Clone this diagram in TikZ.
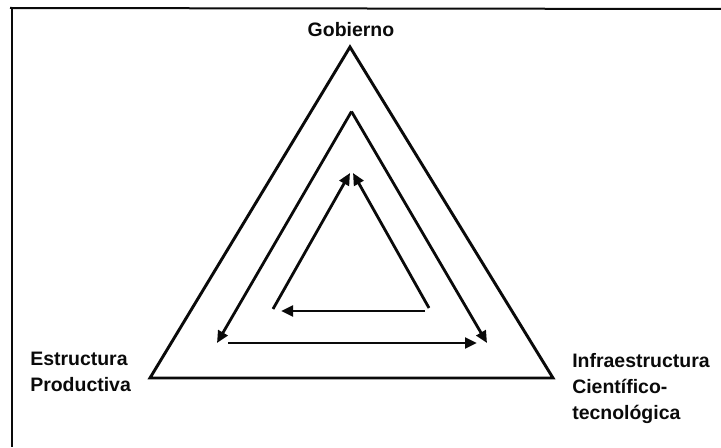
\documentclass[tikz,border=0pt]{standalone}
\usepackage{fontspec}
\setmainfont{Liberation Sans}
\usepackage{tikz}
\usepackage{xcolor}
\usetikzlibrary{arrows.meta,positioning}
\definecolor{ink}{HTML}{0A0A0A}
\tikzset{
  frameline/.style={draw=ink,line width=1.5pt},
  sideline/.style={draw=ink,line width=2.2pt,line join=miter},
  flowarr/.style={-{Triangle[length=9pt,width=8pt]},draw=ink,line width=2.1pt},
  cornertxt/.style={inner sep=0pt,align=left,text=ink,
                    font=\fontsize{14.6}{19.5}\selectfont\bfseries}
}

\begin{document}
\begin{tikzpicture}[x=0.75pt,y=0.75pt]
  \useasboundingbox (0,0) rectangle (721,447);
  % frame (top and left edges only)
  \draw[frameline] (10,439) -- (721,438);
  \draw[frameline] (12,440) -- (12,0);

  % outer triangle
  \coordinate (gob) at (350,400);
  \coordinate (prod) at (150,69);
  \coordinate (infra) at (553,69);
  \draw[sideline] (gob) -- (prod) -- (infra) -- cycle;

  % middle triangle, arrows run outward
  \coordinate (midtop) at (351.5,335.5);
  \coordinate (midleft) at (217,104);
  \coordinate (midright) at (487,104);
  \coordinate (midstart) at (228,104);
  \draw[flowarr] (midtop) -- (midleft);
  \draw[flowarr] (midtop) -- (midright);
  \draw[flowarr] (midstart) -- (477,104);

  % inner triangle, arrows run inward
  \coordinate (intopl) at (350,274);
  \coordinate (intopr) at (353,274);
  \coordinate (inleft) at (273,138);
  \coordinate (inright) at (429,139);
  \coordinate (inbotr) at (425,136);
  \coordinate (inbotl) at (281,136);
  \draw[flowarr] (inleft) -- (intopl);
  \draw[flowarr] (inright) -- (intopr);
  \draw[flowarr] (inbotr) -- (inbotl);

  % labels
  \node[cornertxt,anchor=south] (gobtxt) at (351,410) {Gobierno};
  \node[cornertxt,anchor=north west] (prodtxt) at (30,95)
    {Estructura\\Productiva};
  \node[cornertxt,anchor=north west] (infratxt) at (572,94)
    {Infraestructura\\Científico-\\tecnológica};
\end{tikzpicture}
\end{document}
